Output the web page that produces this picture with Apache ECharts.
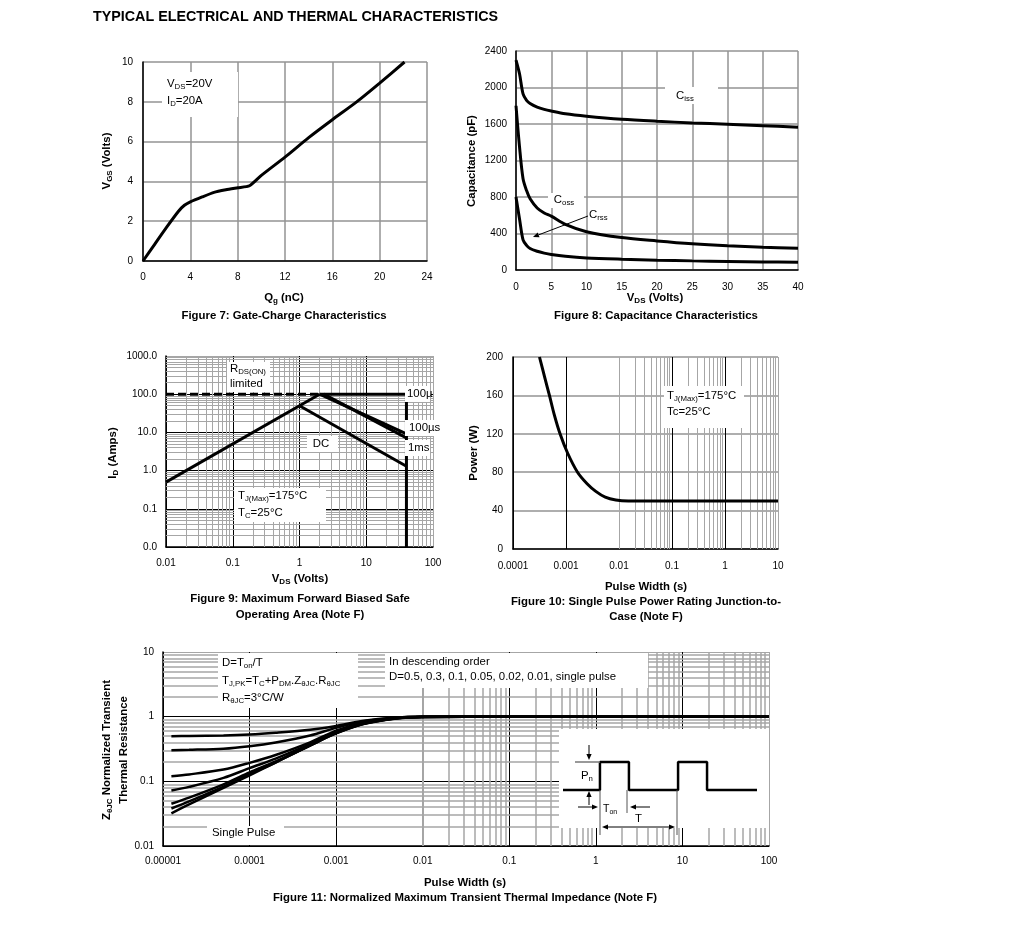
<!DOCTYPE html>
<html><head><meta charset="utf-8">
<script src="https://cdn.jsdelivr.net/npm/echarts@6/dist/echarts.min.js"></script>
<style>html,body{margin:0;padding:0;background:#fff}#c{width:1020px;height:952px}</style>
</head><body><div id="c"></div>
<script>
// ---------- Figure 7: gate charge ----------
const gateCharge  = [0, 1, 2, 3, 3.5, 4, 5, 6, 7, 8, 9, 10, 12, 14, 16, 18, 20, 22.1];
const gateVoltage = [0, 0.85, 1.7, 2.5, 2.8, 2.97, 3.22, 3.45, 3.58, 3.68, 3.78, 4.3, 5.22, 6.2, 7.1, 7.97, 8.94, 10];
// ---------- Figure 8: capacitance ----------
const capVds  = [0, 0.5, 1, 1.5, 2, 3, 4, 5, 7, 10, 15, 20, 25, 30, 35, 40];
const capCiss = [2300, 2150, 1930, 1860, 1825, 1785, 1760, 1742, 1712, 1685, 1652, 1630, 1612, 1598, 1582, 1565];
const capCoss = [1800, 1350, 1000, 870, 780, 680, 625, 590, 500, 420, 355, 318, 287, 265, 250, 238];
const capCrss = [800, 560, 330, 270, 235, 205, 185, 170, 150, 132, 118, 108, 100, 94, 89, 84];
// ---------- Figure 9: safe operating area ----------
const soaRdsLimit   = [[0.01, 0.5], [2, 100]];
const soaRdsDashed  = [[0.01, 100], [2, 100]];
const soa10us       = [[2, 100], [40, 100], [40, 0.01]];
const soa100us      = [[2, 100], [40, 9.2]];
const soa1ms        = [[2.3, 100], [40, 7.2]];
const soaDC         = [[1, 50], [40, 1.3]];
// ---------- Figure 10: single pulse power ----------
const pulseWidth = [3.16e-4, 4e-4, 4.87e-4, 6e-4, 7.72e-4, 1.07e-3, 1.65e-3, 2.5e-3, 3.65e-3, 5.5e-3, 8.7e-3, 0.015, 0.03, 0.1, 1, 10];
const pulsePower = [200, 178, 160, 140, 120, 100, 80, 68, 60, 54, 51, 50, 50, 50, 50, 50];
// ---------- Figure 11: transient thermal impedance ----------
const zthTime   = [1.25e-5, 2e-5, 5e-5, 1e-4, 2e-4, 5e-4, 1e-3, 2e-3, 5e-3, 1e-2, 0.1, 1, 10, 100];
const zthD05    = [0.50, 0.502, 0.512, 0.53, 0.565, 0.63, 0.72, 0.86, 0.97, 0.996, 1, 1, 1, 1];
const zthD03    = [0.303, 0.307, 0.32, 0.35, 0.40, 0.51, 0.675, 0.84, 0.965, 0.995, 1, 1, 1, 1];
const zthD01    = [0.12, 0.128, 0.152, 0.193, 0.255, 0.40, 0.61, 0.80, 0.955, 0.993, 1, 1, 1, 1];
const zthD005   = [0.072, 0.082, 0.113, 0.16, 0.225, 0.375, 0.58, 0.78, 0.95, 0.992, 1, 1, 1, 1];
const zthD002   = [0.045, 0.056, 0.09, 0.137, 0.203, 0.36, 0.56, 0.77, 0.945, 0.99, 1, 1, 1, 1];
const zthD001   = [0.038, 0.049, 0.083, 0.129, 0.197, 0.357, 0.555, 0.765, 0.942, 0.99, 1, 1, 1, 1];
const zthSingle = [0.032, 0.044, 0.079, 0.124, 0.195, 0.36, 0.55, 0.76, 0.94, 0.99, 1, 1, 1, 1];
// inset pulse train (arbitrary time / power units)
const pulseTrain = [[0.19, 3.9], [1.95, 3.9], [1.95, 6.7], [3.33, 6.7], [3.33, 3.9], [5.67, 3.9], [5.67, 6.7], [7.05, 6.7], [7.05, 3.9], [9.43, 3.9]];
// ---------- tick labels ----------
const soaXTicks   = ['0.01', '0.1', '1', '10', '100'];
const soaYTicks   = ['0.0', '0.1', '1.0', '10.0', '100.0', '1000.0'];
const pwrXTicks   = ['0.0001', '0.001', '0.01', '0.1', '1', '10'];
const zthXTicks   = ['0.00001', '0.0001', '0.001', '0.01', '0.1', '1', '10', '100'];
const zthYTicks   = ['0.01', '0.1', '1', '10'];

const F = 'Liberation Sans, Arial, Helvetica, sans-serif';
const zip = (xs, ys) => xs.map((x, i) => [x, ys[i]]);
const logLabel = (labels, minExp) => v => { const e = Math.round(Math.log10(v)); return labels[e - minExp] ?? ''; };
const minors = (lo, hi) => { const o = []; for (let e = lo; e < hi; e++) for (let k = 2; k <= 9; k++) o.push(Number((k * Math.pow(10, e)).toPrecision(6))); return o; };

const lbl = (margin) => ({ color: '#000', fontFamily: F, fontSize: 10, margin });
const axLine = { show: true, onZero: false, lineStyle: { color: '#000', width: 1.5 } };

function valAxis(grid, min, max, interval, margin, splitColor) {
  return { type: 'value', gridIndex: grid, min, max, interval, axisLine: axLine, axisTick: { show: false },
    axisLabel: Object.assign(lbl(margin), { formatter: v => String(v) }),
    splitLine: { show: true, lineStyle: { color: splitColor, width: 1.5 } } };
}
function logAxis(grid, min, max, n, labels, minExp, margin, colors, w) {
  return { type: 'log', logBase: 10, gridIndex: grid, min, max, splitNumber: n, axisLine: axLine, axisTick: { show: false },
    axisLabel: Object.assign(lbl(margin), { formatter: logLabel(labels, minExp) }),
    minorTick: { show: false }, minorSplitLine: { show: false },
    splitLine: { show: true, lineStyle: { color: colors, width: w || 1 } } };
}
function gridLines(idx, xs, ys, color, width) {
  return { type: 'line', xAxisIndex: idx, yAxisIndex: idx, data: [], silent: true, z: 1, animation: false,
    markLine: { silent: true, z: 1, symbol: ['none', 'none'], animation: false, label: { show: false },
      emphasis: { disabled: true }, lineStyle: { color, width, type: 'solid' },
      data: xs.map(v => ({ xAxis: v })).concat(ys.map(v => ({ yAxis: v }))) } };
}
function curve(idx, data, extra) {
  return Object.assign({ type: 'line', xAxisIndex: idx, yAxisIndex: idx, data, symbol: 'none', showSymbol: false,
    silent: true, z: 10, animation: false, lineStyle: { color: '#000', width: 3 } }, extra || {});
}

// rich text styles
const RICH = {
  n:  { fontFamily: F, fontSize: 11.4, lineHeight: 14, color: '#000' },
  s:  { fontFamily: F, fontSize: 7.8, lineHeight: 7, verticalAlign: 'bottom', color: '#000' },
  b:  { fontFamily: F, fontSize: 11.4, fontWeight: 'bold', lineHeight: 14, color: '#000' },
  bs: { fontFamily: F, fontSize: 8, fontWeight: 'bold', lineHeight: 7, verticalAlign: 'bottom', color: '#000' },
  t:  { fontFamily: F, fontSize: 10.5, lineHeight: 13, color: '#000' },
  ts: { fontFamily: F, fontSize: 7, lineHeight: 6, verticalAlign: 'bottom', color: '#000' }
};
function txt(x, y, text, align, rot) {
  return { type: 'text', x, y, rotation: rot || 0, z: 101, silent: true,
    style: { text, rich: RICH, textAlign: align || 'left', textVerticalAlign: 'middle', verticalAlign: 'middle', fill: '#000', font: '11px ' + F } };
}
function box(x, y, w, h, z) {
  return { type: 'rect', z: z || 100, silent: true, shape: { x, y, width: w, height: h }, style: { fill: '#fff', stroke: null } };
}
function seg(x1, y1, x2, y2, color, w) {
  return { type: 'line', z: 102, silent: true, shape: { x1, y1, x2, y2 }, style: { stroke: color || '#000', lineWidth: w || 1 } };
}
function arrow(x1, y1, x2, y2) {
  const a = Math.atan2(y2 - y1, x2 - x1), L = 6, W = 2.6;
  const bx = x2 - L * Math.cos(a), by = y2 - L * Math.sin(a);
  const px = -Math.sin(a) * W, py = Math.cos(a) * W;
  return [seg(x1, y1, bx, by, '#000', 1),
    { type: 'polygon', z: 102, silent: true, shape: { points: [[x2, y2], [bx + px, by + py], [bx - px, by - py]] }, style: { fill: '#000' } }];
}

const graphics = [
  { type: 'text', x: 93, y: 17, z: 101, silent: true, style: { text: 'TYPICAL ELECTRICAL AND THERMAL CHARACTERISTICS', font: 'bold 14.3px ' + F, fill: '#000', textAlign: 'left', textVerticalAlign: 'middle', verticalAlign: 'middle' } },
  // Figure 7
  box(162, 72, 76, 45),
  txt(167, 84, '{n|V}{s|DS}{n|=20V}'),
  txt(167, 101, '{n|I}{s|D}{n|=20A}'),
  txt(107, 161, '{b|V}{bs|GS}{b| (Volts)}', 'center', Math.PI / 2),
  txt(284, 298, '{b|Q}{bs|g}{b| (nC)}', 'center'),
  txt(284, 316, '{b|Figure 7: Gate-Charge Characteristics}', 'center'),
  // Figure 8
  box(665, 87, 53, 17),
  txt(685, 96, '{n|C}{s|iss}', 'center'),
  box(548, 193, 36, 15),
  txt(564, 200, '{n|C}{s|oss}', 'center'),
  txt(589, 215, '{n|C}{s|rss}'),
  ...arrow(588, 216, 533, 237),
  txt(472, 161, '{b|Capacitance (pF)}', 'center', Math.PI / 2),
  txt(655, 298, '{b|V}{bs|DS}{b| (Volts)}', 'center'),
  txt(656, 316, '{b|Figure 8: Capacitance Characteristics}', 'center'),
  // Figure 9
  box(227, 362, 43, 30),
  txt(230, 369, '{n|R}{s|DS(ON)}'),
  txt(230, 384, '{n|limited}'),
  box(405, 386, 25, 16),
  txt(407, 394, '{n|100µ}'),
  box(405, 420, 37, 16),
  txt(409, 428, '{n|100µs}'),
  box(405, 440, 25, 16),
  txt(408, 448, '{n|1ms}'),
  box(307, 436, 31, 16),
  txt(321, 444, '{n|DC}', 'center'),
  box(234, 488, 92, 34),
  txt(238, 496, '{n|T}{s|J(Max)}{n|=175°C}'),
  txt(238, 513, '{n|T}{s|C}{n|=25°C}'),
  txt(113, 453, '{b|I}{bs|D}{b| (Amps)}', 'center', Math.PI / 2),
  txt(300, 579, '{b|V}{bs|DS}{b| (Volts)}', 'center'),
  txt(300, 599, '{b|Figure 9: Maximum Forward Biased Safe}', 'center'),
  txt(300, 615, '{b|Operating Area (Note F)}', 'center'),
  // Figure 10
  box(664, 386, 80, 42),
  txt(667, 396, '{n|T}{s|J(Max)}{n|=175°C}'),
  txt(667, 412, '{n|Tc=25°C}'),
  txt(474, 453, '{b|Power (W)}', 'center', Math.PI / 2),
  txt(646, 587, '{b|Pulse Width (s)}', 'center'),
  txt(646, 602, '{b|Figure 10: Single Pulse Power Rating Junction-to-}', 'center'),
  txt(646, 617, '{b|Case (Note F)}', 'center'),
  // Figure 11
  box(218, 653, 140, 55),
  txt(222, 663, '{n|D=T}{s|on}{n|/T}'),
  txt(222, 681, '{n|T}{s|J,PK}{n|=T}{s|C}{n|+P}{s|DM}{n|.Z}{s|θJC}{n|.R}{s|θJC}'),
  txt(222, 698, '{n|R}{s|θJC}{n|=3°C/W}'),
  box(385, 653, 263, 35),
  txt(389, 662, '{n|In descending order}'),
  txt(389, 677, '{n|D=0.5, 0.3, 0.1, 0.05, 0.02, 0.01, single pulse}'),
  box(207, 826, 77, 19),
  txt(212, 833, '{n|Single Pulse}'),
  box(559, 729, 210, 99, 2),
  seg(575, 762, 600, 762, '#777', 1.5),
  ...arrow(589, 745, 589, 760),
  ...arrow(589, 805, 589, 791),
  txt(581, 776, '{n|P}{s|n}'),
  seg(600, 790, 600, 835, '#555', 1),
  seg(627, 790, 627, 813, '#555', 1),
  seg(677, 790, 677, 835, '#555', 1),
  ...arrow(578, 807, 598, 807),
  ...arrow(650, 807, 630, 807),
  txt(603, 809, '{t|T}{ts|on}'),
  ...arrow(640, 827, 602, 827),
  ...arrow(640, 827, 675, 827),
  txt(635, 819, '{n|T}'),
  txt(107, 750, '{b|Z}{bs|θJC}{b| Normalized Transient}', 'center', Math.PI / 2),
  txt(124, 750, '{b|Thermal Resistance}', 'center', Math.PI / 2),
  txt(465, 883, '{b|Pulse Width (s)}', 'center'),
  txt(465, 898, '{b|Figure 11: Normalized Maximum Transient Thermal Impedance (Note F)}', 'center')
];

const GRAY = '#939393';
const MINOR = '#a6a6a6';

const option = {
  animation: false,
  backgroundColor: '#fff',
  grid: [
    { left: 143, top: 62, width: 284, height: 199, outerBoundsMode: 'none' },
    { left: 516, top: 51, width: 282, height: 219, outerBoundsMode: 'none' },
    { left: 166, top: 356, width: 267, height: 191, outerBoundsMode: 'none' },
    { left: 513, top: 357, width: 265, height: 192, outerBoundsMode: 'none' },
    { left: 163, top: 652, width: 606, height: 194, outerBoundsMode: 'none' },
    { left: 559, top: 729, width: 210, height: 100, outerBoundsMode: 'none' }
  ],
  xAxis: [
    valAxis(0, 0, 24, 4, 11, GRAY),
    valAxis(1, 0, 40, 5, 12, GRAY),
    logAxis(2, 0.01, 100, 4, soaXTicks, -2, 11, ['#000', '#000', '#000', '#000', MINOR]),
    logAxis(3, 0.0001, 10, 5, pwrXTicks, -4, 12, ['#000', '#000', '#000', '#000', '#000', MINOR]),
    logAxis(4, 0.00001, 100, 7, zthXTicks, -5, 10, ['#000', '#000', '#000', '#000', '#000', '#000', '#000', MINOR]),
    { type: 'value', gridIndex: 5, min: 0, max: 10, show: false }
  ],
  yAxis: [
    valAxis(0, 0, 10, 2, 10, GRAY),
    valAxis(1, 0, 2400, 400, 9, GRAY),
    logAxis(2, 0.01, 1000, 5, soaYTicks, -2, 9, ['#000', '#000', '#000', '#000', '#000', MINOR]),
    valAxis(3, 0, 200, 40, 10, GRAY),
    logAxis(4, 0.01, 10, 3, zthYTicks, -2, 9, ['#000', '#000', '#000', MINOR]),
    { type: 'value', gridIndex: 5, min: 0, max: 10, show: false }
  ],
  series: [
    // fig 7
    curve(0, zip(gateCharge, gateVoltage), { smooth: 0.2 }),
    // fig 8
    curve(1, zip(capVds, capCiss), { smooth: 0.3 }),
    curve(1, zip(capVds, capCoss), { smooth: 0.3 }),
    curve(1, zip(capVds, capCrss), { smooth: 0.3 }),
    // fig 9
    gridLines(2, minors(-2, 2), minors(-2, 3), MINOR, 1),
    curve(2, soaRdsLimit),
    curve(2, soaRdsDashed, { lineStyle: { color: '#000', width: 3, type: [8, 4] } }),
    curve(2, soa10us),
    curve(2, soa100us),
    curve(2, soa1ms),
    curve(2, soaDC),
    // fig 10
    gridLines(3, minors(-4, 1), [], MINOR, 1),
    curve(3, zip(pulseWidth, pulsePower), { smooth: 0.3 }),
    // fig 11
    gridLines(4, minors(-5, 2), minors(-2, 1), MINOR, 1.5),
    curve(4, zip(zthTime, zthD05), { smooth: 0.3, lineStyle: { color: '#000', width: 2.5 } }),
    curve(4, zip(zthTime, zthD03), { smooth: 0.3, lineStyle: { color: '#000', width: 2.5 } }),
    curve(4, zip(zthTime, zthD01), { smooth: 0.3, lineStyle: { color: '#000', width: 2.5 } }),
    curve(4, zip(zthTime, zthD005), { smooth: 0.3, lineStyle: { color: '#000', width: 2.5 } }),
    curve(4, zip(zthTime, zthD002), { smooth: 0.3, lineStyle: { color: '#000', width: 2.5 } }),
    curve(4, zip(zthTime, zthD001), { smooth: 0.3, lineStyle: { color: '#000', width: 2.5 } }),
    curve(4, zip(zthTime, zthSingle), { smooth: 0.3, lineStyle: { color: '#000', width: 2.5 } }),
    // inset pulse train
    curve(5, pulseTrain, { z: 12, lineStyle: { color: '#000', width: 2.5 } })
  ],
  graphic: graphics
};

const chart = echarts.init(document.getElementById('c'), null, { renderer: 'canvas' });
chart.setOption(option);
</script>
</body></html>
